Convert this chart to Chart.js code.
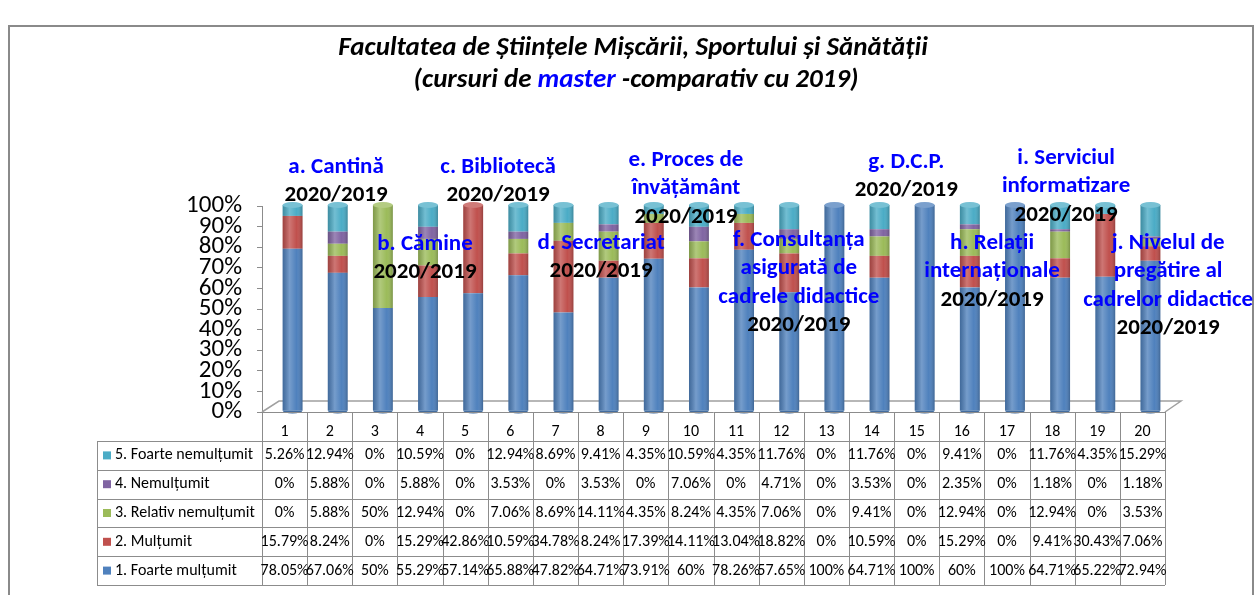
<!DOCTYPE html>
<html>
<head>
<meta charset="utf-8">
<script src="https://cdn.jsdelivr.net/npm/chart.js@4/dist/chart.umd.min.js"></script>
<style>
  html, body { margin: 0; padding: 0; background: #fff; }
</style>
</head>
<body>
<canvas id="chart" width="1258" height="595"></canvas>
<script>
'use strict'

const FONT = "Carlito, 'Liberation Sans Narrow', 'Open Sans', sans-serif";

/* date */
const categories = ['1','2','3','4','5','6','7','8','9','10','11','12','13','14','15','16','17','18','19','20'];
const foarteMultumit   = [78.05, 67.06, 50, 55.29, 57.14, 65.88, 47.82, 64.71, 73.91, 60, 78.26, 57.65, 100, 64.71, 100, 60, 100, 64.71, 65.22, 72.94];
const multumit         = [15.79, 8.24, 0, 15.29, 42.86, 10.59, 34.78, 8.24, 17.39, 14.11, 13.04, 18.82, 0, 10.59, 0, 15.29, 0, 9.41, 30.43, 7.06];
const relativNemultumit= [0, 5.88, 50, 12.94, 0, 7.06, 8.69, 14.11, 4.35, 8.24, 4.35, 7.06, 0, 9.41, 0, 12.94, 0, 12.94, 0, 3.53];
const nemultumit       = [0, 5.88, 0, 5.88, 0, 3.53, 0, 3.53, 0, 7.06, 0, 4.71, 0, 3.53, 0, 2.35, 0, 1.18, 0, 1.18];
const foarteNemultumit = [5.26, 12.94, 0, 10.59, 0, 12.94, 8.69, 9.41, 4.35, 10.59, 4.35, 11.76, 0, 11.76, 0, 9.41, 0, 11.76, 4.35, 15.29];
const yTicks = [0, 10, 20, 30, 40, 50, 60, 70, 80, 90, 100];

const seriesNames  = ['1. Foarte mulțumit', '2. Mulțumit', '3. Relativ nemulțumit', '4. Nemulțumit', '5. Foarte nemulțumit'];
const seriesValues = [foarteMultumit, multumit, relativNemultumit, nemultumit, foarteNemultumit];
const seriesColors = ['#4f81bd', '#c0504d', '#9bbb59', '#8064a2', '#4bacc6'];

// etichete peste grafic: x = index categorie, y = valoare pe axa
const notes = [
  { x: 1.14,  y: 118.9, lines: ['a. Cantină', '2020/2019'] },
  { x: 3.11,  y: 81.6,  lines: ['b. Cămine', '2020/2019'] },
  { x: 4.73,  y: 118.9, lines: ['c. Bibliotecă', '2020/2019'] },
  { x: 7.01,  y: 82.0,  lines: ['d. Secretariat', '2020/2019'] },
  { x: 8.89,  y: 122.3, lines: ['e. Proces de', 'învățământ', '2020/2019'] },
  { x: 11.39, y: 83.5,  lines: ['f. Consultanța', 'asigurată de', 'cadrele didactice', '2020/2019'] },
  { x: 13.77, y: 121.4, lines: ['g. D.C.P.', '2020/2019'] },
  { x: 15.67, y: 82.0,  lines: ['h. Relații', 'internaționale', '2020/2019'] },
  { x: 17.31, y: 123.3, lines: ['i. Serviciul', 'informatizare', '2020/2019'] },
  { x: 19.57, y: 82.0,  lines: ['j. Nivelul de', 'pregătire al', 'cadrelor didactice', '2020/2019'] }
];

// 100% stacked: fiecare coloana raportata la totalul ei
const totals = categories.map((c, i) => seriesValues.reduce((s, arr) => s + arr[i], 0));

const datasets = seriesNames.map((name, k) => ({
  label: name,
  data: seriesValues[k].map((v, i) => v / totals[i] * 100),
  backgroundColor: seriesColors[k],
  borderWidth: 0,
  barPercentage: 0.44,
  categoryPercentage: 1
}));

const DEPTH = 8;   // deplasarea coloanelor spre spate (efect 3D)

/* podeaua 3D */
const floorPlugin = {
  id: 'floor',
  beforeDatasetsDraw(chart) {
    const { ctx, chartArea: a } = chart;
    ctx.save();
    ctx.strokeStyle = '#a0a0a0';
    ctx.lineWidth = 1.5;
    ctx.beginPath();
    ctx.moveTo(a.left, a.bottom);
    ctx.lineTo(a.left + 17, a.bottom - 11);
    ctx.lineTo(a.right + 16, a.bottom - 11);
    ctx.lineTo(a.right, a.bottom);
    ctx.stroke();
    ctx.restore();
    ctx.save();
    ctx.translate(DEPTH, -1);
  }
};

/* efect de cilindru */
const cylinderPlugin = {
  id: 'cylinder',
  afterDatasetsDraw(chart) {
    const ctx = chart.ctx;
    const metas = chart.getSortedVisibleDatasetMetas();
    categories.forEach((c, i) => {
      let top = null, topColor = null, bottom = null, bx = 0, bw = 0;
      metas.forEach((m, k) => {
        const el = m.data[i];
        if (!el || seriesValues[k][i] === 0) return;
        if (bottom === null) bottom = el.base;
        top = el.y; topColor = seriesColors[k];
        bx = el.x; bw = el.width;
      });
      if (top === null) return;
      const g = ctx.createLinearGradient(bx - bw / 2, 0, bx + bw / 2, 0);
      g.addColorStop(0, 'rgba(0,0,0,0.18)');
      g.addColorStop(0.35, 'rgba(255,255,255,0.22)');
      g.addColorStop(0.7, 'rgba(255,255,255,0)');
      g.addColorStop(1, 'rgba(0,0,0,0.22)');
      ctx.save();
      ctx.fillStyle = g;
      ctx.fillRect(bx - bw / 2, top, bw, bottom - top);
      // baza rotunjita
      ctx.fillStyle = seriesColors[0];
      ctx.beginPath();
      ctx.ellipse(bx, bottom, bw / 2, 3, 0, 0, Math.PI);
      ctx.fill();
      ctx.fillStyle = 'rgba(0,0,0,0.15)';
      ctx.fill();
      // capac
      ctx.fillStyle = topColor;
      ctx.beginPath();
      ctx.ellipse(bx, top, bw / 2, 3, 0, 0, Math.PI * 2);
      ctx.fill();
      ctx.fillStyle = 'rgba(255,255,255,0.25)';
      ctx.fill();
      ctx.restore();
    });
    ctx.restore();   // pereche cu translate din floorPlugin
  }
};

/* titlu, tabel, etichete */
const extrasPlugin = {
  id: 'extras',
  afterDraw(chart) {
    const { ctx, chartArea: a } = chart;
    const xs = chart.scales.x, ys = chart.scales.y;
    ctx.save();

    // chenar
    ctx.strokeStyle = '#8a8a8a';
    ctx.lineWidth = 2;
    ctx.strokeRect(9, 26, 1244, 600);

    // titlu
    ctx.textBaseline = 'middle';
    ctx.font = 'italic bold 27px ' + FONT;
    ctx.fillStyle = '#000';
    ctx.textAlign = 'center';
    ctx.fillText('Facultatea de Științele Mișcării, Sportului și Sănătății', 633, 48);
    const parts = [['(cursuri de ', '#000'], ['master', '#0000ff'], [' -comparativ cu 2019)', '#000']];
    let w = parts.reduce((s, p) => s + ctx.measureText(p[0]).width, 0);
    let px = 636 - w / 2;
    ctx.textAlign = 'left';
    parts.forEach(p => {
      ctx.fillStyle = p[1];
      ctx.fillText(p[0], px, 80);
      px += ctx.measureText(p[0]).width;
    });

    // tabel de date
    const colW = (a.right - a.left) / categories.length;
    const tTop = a.bottom, headH = 29, rowH = 28.8, tLeft = 97;
    const rowTop = r => tTop + headH + rowH * r;
    ctx.strokeStyle = '#8c8c8c';
    ctx.lineWidth = 1;
    ctx.beginPath();
    for (let r = 0; r <= seriesNames.length; r++) {
      const y = Math.round(rowTop(r)) + 0.5;
      ctx.moveTo(tLeft, y); ctx.lineTo(a.right, y);
    }
    ctx.moveTo(a.left, tTop + 0.5); ctx.lineTo(a.right, tTop + 0.5);
    ctx.moveTo(tLeft + 0.5, rowTop(0)); ctx.lineTo(tLeft + 0.5, rowTop(5));
    for (let i = 0; i <= categories.length; i++) {
      const x = Math.round(a.left + colW * i) + 0.5;
      ctx.moveTo(x, tTop); ctx.lineTo(x, rowTop(5));
    }
    ctx.stroke();

    ctx.font = '16px ' + FONT;
    ctx.fillStyle = '#000';
    ctx.textAlign = 'center';
    categories.forEach((c, i) => {
      ctx.fillText(c, xs.getPixelForValue(i), tTop + 20);
    });
    for (let r = 0; r < seriesNames.length; r++) {
      const k = seriesNames.length - 1 - r;
      const cy = rowTop(r) + rowH / 2;
      ctx.fillStyle = seriesColors[k];
      ctx.fillRect(tLeft + 6, cy - 4, 8, 8);
      ctx.fillStyle = '#000';
      ctx.textAlign = 'left';
      ctx.fillText(seriesNames[k], tLeft + 18, cy);
      ctx.textAlign = 'center';
      seriesValues[k].forEach((v, i) => {
        ctx.fillText(v + '%', xs.getPixelForValue(i), cy);
      });
    }

    // etichete
    ctx.font = 'bold 23px ' + FONT;
    ctx.textAlign = 'center';
    notes.forEach(n => {
      const x = xs.getPixelForValue(n.x);
      const y0 = ys.getPixelForValue(n.y);
      n.lines.forEach((t, j) => {
        ctx.fillStyle = t === '2020/2019' ? '#000' : '#0000ff';
        ctx.fillText(t, x, y0 + j * 28.5);
      });
    });
    ctx.restore();
  }
};

const config = {
  type: 'bar',
  data: { labels: categories, datasets: datasets },
  options: {
    responsive: false,
    animation: false,
    layout: { padding: { top: 206, bottom: 183, left: 0, right: 93 } },
    plugins: { legend: { display: false }, tooltip: { enabled: false }, title: { display: false } },
    scales: {
      x: { stacked: true, display: false },
      y: {
        stacked: true,
        min: 0,
        max: 100,
        afterFit: s => { s.width = 262; },
        afterBuildTicks: s => { s.ticks = yTicks.map(v => ({ value: v })); },
        ticks: {
          autoSkip: false,
          color: '#000',
          padding: 15,
          font: { family: FONT, size: 25, lineHeight: 1 },
          callback: v => v + '%'
        },
        grid: { drawOnChartArea: false, tickLength: 5, color: '#8c8c8c' },
        border: { display: true, color: '#8c8c8c' }
      }
    }
  },
  plugins: [floorPlugin, cylinderPlugin, extrasPlugin]
};

const chart = new Chart(document.getElementById('chart').getContext('2d'), config);
</script>
</body>
</html>
